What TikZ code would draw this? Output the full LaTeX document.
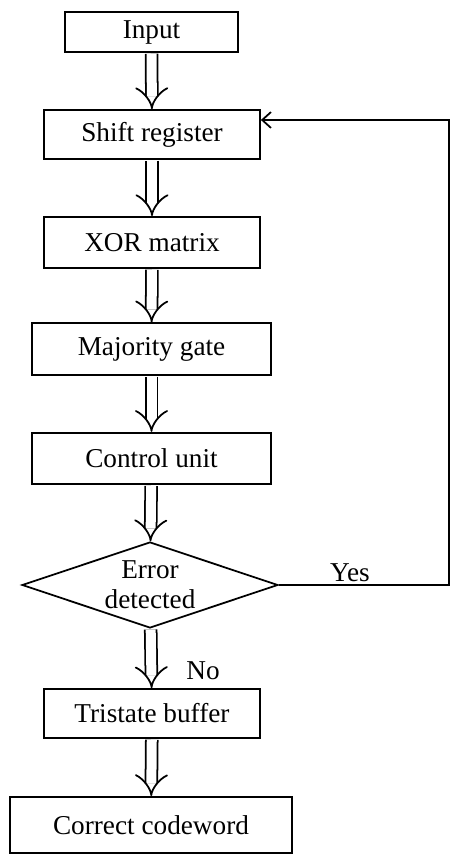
\documentclass[tikz,border=0pt]{standalone}
\usepackage{fontspec}
\setmainfont{Liberation Serif}
\usetikzlibrary{shapes.geometric,arrows.meta}

\begin{document}
\begin{tikzpicture}[
   x=0.02cm, y=-0.02cm,
   every node/.style={font=\fontsize{15.5}{17}\selectfont},
   block/.style={draw,line width=1pt,inner sep=0pt,minimum width=4.32cm,minimum height=1cm},
   wide/.style={block,minimum width=4.78cm,minimum height=1.03cm},
   decision/.style={draw,line width=1pt,diamond,aspect=2.98,inner sep=0pt,minimum width=5.12cm,minimum height=1.72cm,align=center},
   flow/.style={double,double distance=0.2cm,line width=1pt,-{Implies},shorten <=0.5pt},
   back/.style={->,line width=1pt,>={Straight Barb[length=5pt,width=9pt]}}]
\useasboundingbox (0,0) rectangle (451,854);
\node[block,minimum width=3.46cm,minimum height=0.8cm] (in) at (151.5,32) {Input};
\node[block,minimum height=0.98cm] (shift) at (152,134.5) {Shift register};
\node[block,minimum height=1.02cm] (xor) at (152,242.5) {XOR matrix};
\node[wide] (maj) at (151.5,349) {Majority gate};
\node[wide] (ctrl) at (151.5,458.5) {Control unit};
\node[decision] (err) at (150,585) {Error\\[0pt]detected};
\node[block,minimum height=0.98cm] (tri) at (152,713.5) {Tristate buffer};
\node[block,minimum width=5.64cm,minimum height=1.12cm] (out) at (151,825) {Correct codeword};
\coordinate (fbbot) at (449,585);
\coordinate (fbtop) at (449,120);
\node (yes) at (350,573) {Yes};
\node (no) at (203,671) {No};
\draw[flow] (in) -- (shift);
\draw[flow] (shift) -- (xor);
\draw[flow] (xor) -- (maj);
\draw[flow] (maj) -- (ctrl);
\draw[flow] (ctrl) -- (err);
\draw[flow] (err) -- (tri);
\draw[flow] (tri) -- (out);
\draw[back] (err.east) -- (fbbot) -- (fbtop) -- (fbtop -| shift.east);
\end{tikzpicture}
\end{document}
